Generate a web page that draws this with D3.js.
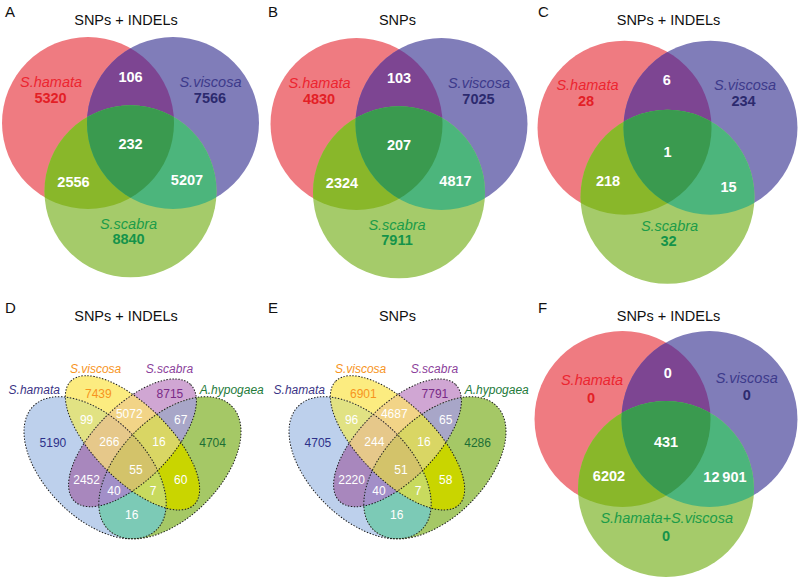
<!DOCTYPE html>
<html><head><meta charset="utf-8">
<script src="https://cdn.jsdelivr.net/npm/d3@7/dist/d3.min.js"></script>
<style>body{margin:0;background:#fff}svg text{font-family:"Liberation Sans",Arial,Helvetica,sans-serif}</style>
</head><body><svg id="c" width="798" height="579"></svg>
<script>
// ---------------- data ----------------
const panelLetters = ["A","B","C","D","E","F"];
const panelTitles = ["SNPs + INDELs","SNPs","SNPs + INDELs","SNPs + INDELs","SNPs","SNPs + INDELs"];
const setsABC = ["S.hamata","S.viscosa","S.scabra"];
const setsF = ["S.hamata","S.viscosa","S.hamata+S.viscosa"];
const setsDE = ["S.hamata","S.viscosa","S.scabra","A.hypogaea"];
// 3-set regions: 1=S.hamata, 2=S.viscosa, 3=third set
const regions3 = ["1","2","3","12","13","23","123"];
const valuesA = [5320,7566,8840,106,2556,5207,232];
const valuesB = [4830,7025,7911,103,2324,4817,207];
const valuesC = [28,234,32,6,218,15,1];
const valuesF = [0,0,0,0,6202,12901,431];
// 4-set regions: 1=S.hamata, 2=S.viscosa, 3=S.scabra, 4=A.hypogaea
const regions4 = ["2","3","12","23","34","1","123","234","4","1234","13","24","134","124","14"];
const valuesD = [7439,8715,99,5072,67,5190,266,16,4704,55,2452,60,40,7,16];
const valuesE = [6901,7791,96,4687,65,4705,244,16,4286,51,2220,58,40,7,16];

// ---------------- styles ----------------
const colors3 = {"1":"#ef7b81","2":"#807db9","3":"#a5cb6a","12":"#7d4592","13":"#89b72a","23":"#4cb57c","123":"#3a9a4f"};
const labelColors3 = ["#ec2530","#3d3a8b","#1c9c49"];
const numColors3 = ["#e31f26","#2c2a6e","#14934a"];
const colors4 = {"1":"#bdd0ec","2":"#fcec80","3":"#d0a6d3","4":"#a5c866","12":"#e1e283","23":"#f2d487","34":"#a8a6c8",
  "123":"#e6c88a","234":"#d9d664","1234":"#d3c36a","13":"#a887bd","24":"#c9d500","134":"#a28fc8","124":"#c8da5e","14":"#7ccab6"};
const labelColors4 = ["#3a3385","#f7941d","#8b3f9b","#247a3a"];
const numColors4 = ["#2d3089","#f7941d","#7a2a87","#1d6e35"];

// ---------------- layout ----------------
const circleCenters = [[-0.494,0],[0.494,0],[0,0.795]];
const layoutAB = {num:[[-0.930,-0.233],[0.924,-0.233],[-0.023,1.407],[0,-0.477],[-0.663,0.744],[0.657,0.721],[0,0.308]],
  lab:[[-0.924,-0.419],[0.930,-0.419],[-0.023,1.238]]};
const layoutC = {num:[[-0.937,-0.249],[0.874,-0.249],[0.011,1.356],[-0.009,-0.491],[-0.684,0.667],[0.701,0.736],[0,0.333]],
  lab:[[-0.920,-0.433],[0.891,-0.433],[0.023,1.184]]};
const layoutF = {num:[[-0.852,-0.182],[0.917,-0.216],[0,1.383],[0.019,-0.466],[-0.648,0.701],[0.670,0.713],[0,0.315]],
  lab:[[-0.841,-0.386],[0.917,-0.409],[0.008,1.182]]};
const ellipses4 = [[0.35,0.47,0.35,0.20,135],[0.50,0.57,0.35,0.15,135],[0.50,0.57,0.33,0.15,45],[0.65,0.47,0.35,0.20,45]];
const numPos4 = [[0.363,0.769],[0.650,0.769],[0.316,0.662],[0.487,0.686],[0.693,0.662],[0.181,0.570],[0.407,0.575],
  [0.606,0.575],[0.821,0.570],[0.514,0.462],[0.316,0.421],[0.693,0.421],[0.426,0.378],[0.583,0.378],[0.497,0.281]];
const labPos4 = [[0.106,0.783],[0.352,0.867],[0.648,0.867],[0.898,0.783]];

const letterPos = [[5,16.5],[268,16.5],[538,16.5],[5,312.5],[268,312.5],[538,312.5]];
const titlePos = [[126,25],[397.5,25],[668.5,25],[126,321],[397.5,321],[668.5,321]];

const svg = d3.select("#c");
const defs = svg.append("defs");
const fmt = v => v >= 10000 ? d3.format(",")(v).replace(/,/g, "\u2009") : d3.format("d")(v);

function drawRegions(g, id, shapes, colors, keys) {
  shapes.forEach((s, i) => s(defs.append("clipPath").attr("id", id + "-" + i)));
  keys.slice().sort((a, b) => a.length - b.length).forEach(k => {
    const idx = k.split("").map(c => +c - 1);
    let cur = g;
    idx.slice(1).forEach(i => { cur = cur.append("g").attr("clip-path", "url(#" + id + "-" + i + ")"); });
    shapes[idx[0]](cur).attr("fill", colors[k]);
  });
}

function venn3(id, cx, cy, r, sets, values, layout) {
  const x = d3.scaleLinear().domain([-1, 1]).range([cx - r, cx + r]);
  const y = d3.scaleLinear().domain([-1, 1]).range([cy - r, cy + r]);
  const g = svg.append("g");
  const shapes = circleCenters.map(c => sel => sel.append("circle")
    .attr("cx", x(c[0])).attr("cy", y(c[1])).attr("r", x(1) - x(0)));
  drawRegions(g, id, shapes, colors3, regions3);
  regions3.forEach((k, i) => {
    const p = layout.num[i];
    g.append("text").attr("x", x(p[0])).attr("y", y(p[1])).attr("text-anchor", "middle")
      .attr("font-size", 14.5).attr("font-weight", "bold")
      .attr("fill", k.length === 1 ? numColors3[+k - 1] : "#fff").text(fmt(values[i]));
  });
  sets.forEach((s, i) => {
    const p = layout.lab[i];
    g.append("text").attr("x", x(p[0])).attr("y", y(p[1])).attr("text-anchor", "middle")
      .attr("font-size", 14.5).attr("font-style", "italic").attr("fill", labelColors3[i]).text(s);
  });
}

function venn4(id, x0, sets, values) {
  const s = 249.4;
  const x = d3.scaleLinear().domain([0, 1]).range([x0, x0 + s]);
  const y = d3.scaleLinear().domain([0, 1]).range([585, 585 - s]);
  const g = svg.append("g");
  const shapes = ellipses4.map(e => sel => sel.append("ellipse")
    .attr("cx", x(e[0])).attr("cy", y(e[1]))
    .attr("rx", x(e[2]) - x(0)).attr("ry", x(e[3]) - x(0))
    .attr("transform", "rotate(" + (-e[4]) + "," + x(e[0]) + "," + y(e[1]) + ")"));
  drawRegions(g, id, shapes, colors4, regions4);
  shapes.forEach(sh => sh(g).attr("fill", "none").attr("stroke", "#1a1a1a")
    .attr("stroke-width", 1).attr("stroke-dasharray", "1.4,1.6"));
  regions4.forEach((k, i) => {
    const p = numPos4[i];
    g.append("text").attr("x", x(p[0])).attr("y", y(p[1])).attr("dy", "0.36em").attr("text-anchor", "middle")
      .attr("font-size", 12)
      .attr("fill", k.length === 1 ? numColors4[+k - 1] : "#fff").text(fmt(values[i]));
  });
  sets.forEach((sname, i) => {
    const p = labPos4[i];
    g.append("text").attr("x", x(p[0])).attr("y", y(p[1])).attr("dy", "0.36em").attr("text-anchor", "middle")
      .attr("font-size", 12).attr("font-style", "italic").attr("fill", labelColors4[i]).text(sname);
  });
}

venn3("va", 130.5, 123, 86, setsABC, valuesA, layoutAB);
venn3("vb", 399, 124, 86, setsABC, valuesB, layoutAB);
venn3("vc", 667.5, 127.7, 87, setsABC, valuesC, layoutC);
venn4("vd", 7.8, setsDE, valuesD);
venn4("ve", 272.8, setsDE, valuesE);
venn3("vf", 666, 419, 88, setsF, valuesF, layoutF);

panelLetters.forEach((l, i) => {
  svg.append("text").attr("x", letterPos[i][0]).attr("y", letterPos[i][1])
    .attr("font-size", 15).attr("fill", "#111").text(l);
  svg.append("text").attr("x", titlePos[i][0]).attr("y", titlePos[i][1]).attr("text-anchor", "middle")
    .attr("font-size", 14.5).attr("fill", "#111").text(panelTitles[i]);
});
</script></body></html>
